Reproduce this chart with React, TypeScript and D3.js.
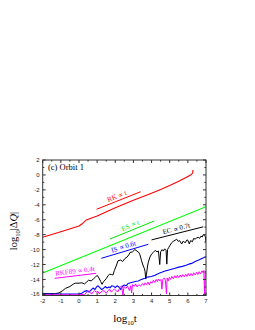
import React from 'react';
import * as d3 from 'd3';

// x = log10 t, y = log10 |dQ|
const xTicks = [-2, -1, 0, 1, 2, 3, 4, 5, 6, 7];
const yTicks = [-16, -14, -12, -10, -8, -6, -4, -2, 0, 2];

const rkData: [number, number][] = [
  [-2, -8.35], [-1, -7.6], [0, -6.85], [0.2, -6.5], [0.4, -6.05], [1, -5.5], [2, -4.4], [3, -3.4],
  [4, -2.45], [4.5, -1.95], [5, -1.4], [5.5, -0.85], [6, -0.2], [6.2, 0.05], [6.27, 0.3], [6.28, 0.65],
];

const esData: [number, number][] = [[-2, -13.15], [7, -4.25]];

const ecData: [number, number][] = [
  [-2, -15.9], [-1.3, -15.9], [-1.1, -15.8], [-0.9, -15.5], [-0.75, -15.2], [-0.5, -14.95], [-0.3, -14.6],
  [-0.2, -14.5], [0, -14.5], [0.16, -14.45], [0.3, -14.6], [0.4, -14.4], [0.53, -14.1], [0.68, -14.2],
  [0.8, -13.9], [0.9, -13.7], [1.0, -13.45], [1.1, -13.8], [1.2, -14.3], [1.27, -14.65], [1.35, -14.3],
  [1.5, -13.9], [1.6, -13.5], [1.69, -13.3], [1.8, -13.35], [1.87, -13.4], [1.95, -12.8], [2.05, -12.2],
  [2.15, -11.5], [2.3, -11.4], [2.4, -11.6], [2.53, -11.2], [2.65, -11.0], [2.75, -10.7], [2.81, -10.4],
  [2.95, -10.3], [3.08, -10.0], [3.2, -10.2], [3.3, -10.4], [3.36, -10.7], [3.45, -11.5], [3.54, -12.2],
  [3.6, -12.5], [3.64, -12.9], [3.68, -13.95], [3.72, -13.3], [3.78, -12.2], [3.82, -11.7], [3.91, -11.0],
  [4.0, -10.6], [4.09, -10.4], [4.2, -10.1], [4.3, -10.3], [4.38, -10.2], [4.45, -12.0], [4.5, -10.3],
  [4.58, -10.0], [4.65, -10.2], [4.72, -9.9], [4.8, -10.1], [4.84, -11.95], [4.88, -10.0], [4.95, -9.7],
  [5.0, -9.5], [5.1, -9.1], [5.19, -8.9], [5.3, -8.75], [5.38, -8.6], [5.47, -8.9], [5.55, -8.8],
  [5.66, -9.25], [5.75, -8.85], [5.85, -9.1], [5.95, -8.7], [6.0, -8.75], [6.08, -9.25], [6.15, -8.8],
  [6.25, -8.95], [6.32, -8.5], [6.4, -8.6], [6.48, -8.45], [6.57, -8.35], [6.65, -8.5], [6.72, -8.2],
  [6.8, -8.3], [6.85, -8.0], [6.92, -8.1], [6.97, -8.3], [7.0, -9.0],
];

const isData: [number, number][] = [
  [-2, -15.95], [-1, -15.95], [0, -15.95], [0.15, -15.85], [0.3, -15.6], [0.44, -15.5], [0.55, -15.7],
  [0.65, -15.45], [0.77, -15.15], [0.88, -15.35], [0.97, -15.0], [1.05, -14.85], [1.15, -15.1],
  [1.25, -15.35], [1.35, -15.2], [1.45, -14.95], [1.55, -15.15], [1.65, -15.0], [1.72, -15.1],
  [1.8, -14.85], [1.9, -14.9], [2.0, -15.1], [2.1, -14.85], [2.2, -15.0], [2.3, -15.35], [2.4, -14.9],
  [2.5, -14.75], [2.6, -14.85], [2.7, -14.55], [2.85, -14.45], [3.0, -14.35], [3.15, -14.25],
  [3.27, -14.2], [3.4, -14.05], [3.55, -13.9], [3.65, -13.85], [3.73, -13.7], [3.85, -13.65],
  [4.0, -13.6], [4.1, -13.5], [4.19, -13.45], [4.3, -13.3], [4.45, -13.15], [4.56, -13.05],
  [4.7, -12.9], [4.85, -12.8], [5.0, -12.7], [5.15, -12.6], [5.3, -12.5], [5.5, -12.35], [5.7, -12.25],
  [5.9, -12.1], [6.05, -11.95], [6.21, -11.85], [6.4, -11.6], [6.6, -11.4], [6.8, -11.15], [7.0, -10.95],
];

const rkfData: [number, number][] = [
  [-2, -16.05], [-1, -16.05], [0, -16.05], [0.3, -16.0], [0.45, -15.7], [0.53, -15.5], [0.62, -15.8],
  [0.7, -15.95], [0.8, -15.6], [0.86, -15.5], [0.95, -15.7], [1.05, -15.6], [1.12, -15.95], [1.2, -15.7],
  [1.32, -15.5], [1.42, -15.6], [1.5, -15.85], [1.6, -15.5], [1.69, -15.3], [1.78, -15.7], [1.85, -15.5],
  [1.95, -15.3], [2.05, -15.5], [2.15, -15.65], [2.25, -15.1], [2.35, -14.85], [2.42, -16.2],
  [2.48, -14.95], [2.58, -15.2], [2.68, -14.9], [2.78, -15.5], [2.85, -14.85], [2.9, -15.8],
  [2.95, -14.7], [3.05, -14.9], [3.12, -14.6], [3.2, -15.0], [3.3, -14.7], [3.4, -14.9], [3.5, -14.55],
  [3.58, -14.8], [3.64, -14.45], [3.72, -14.7], [3.8, -14.35], [3.88, -14.75], [3.95, -14.3],
  [4.02, -14.5], [4.1, -14.1], [4.18, -14.4], [4.25, -14.0], [4.32, -14.3], [4.38, -13.95],
  [4.45, -14.2], [4.52, -14.0], [4.57, -15.3], [4.62, -14.0], [4.7, -13.8], [4.76, -14.1],
  [4.82, -15.95], [4.86, -13.8], [4.92, -14.2], [4.98, -13.7], [5.05, -14.0], [5.12, -13.6],
  [5.2, -13.9], [5.28, -13.5], [5.35, -13.8], [5.42, -13.45], [5.5, -13.75], [5.58, -13.4],
  [5.65, -13.7], [5.72, -13.35], [5.8, -13.65], [5.88, -13.3], [5.95, -13.6], [6.02, -13.2],
  [6.1, -13.55], [6.18, -13.2], [6.25, -13.5], [6.32, -13.1], [6.4, -13.4], [6.48, -13.05],
  [6.55, -13.35], [6.62, -12.95], [6.7, -13.25], [6.78, -12.85], [6.84, -13.1], [6.88, -12.8],
  [6.92, -16.0], [6.96, -12.9], [7.0, -13.0],
];

// slope guide lines with their labels (data coords)
const guideNames = ['RK ∝ t', 'ES ∝ t', 'EC ∝ 0.7t', 'IS ∝ 0.6t', 'RKF89 ∝ 0.4t'];
const guideColors = ['#ff0000', '#00e600', '#000000', '#0000ff', '#ff00ff'];
const guideLines: [number, number, number, number][] = [
  [0.97, -4.6, 3.4, -2.25],
  [1.71, -8.58, 4.15, -6.17],
  [4.0, -8.7, 6.85, -6.95],
  [1.23, -11.17, 3.82, -9.29],
  [-1.34, -13.85, 0.95, -13.18],
];

const series = [
  { data: rkData, color: '#ff0000', w: 1.1 },
  { data: esData, color: '#00ff00', w: 1.1 },
  { data: ecData, color: '#000000', w: 1 },
  { data: isData, color: '#0000ff', w: 1.1 },
  { data: rkfData, color: '#ff00ff', w: 1 },
];

export default function App() {
  const W = 255, H = 330;
  const left = 42.7, right = 206, top = 160, bottom = 295.5;
  const x = d3.scaleLinear().domain([-2, 7]).range([left, right]);
  const y = d3.scaleLinear().domain([-16.15, 2]).range([bottom, top]);
  const line = d3.line<[number, number]>().x(d => x(d[0])).y(d => y(d[1]));

  const xMinor = d3.range(-1.5, 7, 1);
  const yMinor = d3.range(-15, 2, 2);
  const axisColor = '#333';
  const tickFont = "'Liberation Sans', Arial, sans-serif";
  const serif = "'Liberation Serif', 'Times New Roman', serif";

  return (
    <div style={{ position: 'fixed', left: 0, top: 0 }}>
      <svg width={W} height={H} style={{ display: 'block', background: '#fff' }}>
        <defs>
          <clipPath id="plot">
            <rect x={left} y={top} width={right - left} height={bottom - top} />
          </clipPath>
        </defs>

        <g clipPath="url(#plot)">
          {series.map((s, i) => (
            <path key={i} d={line(s.data) || ''} fill="none" stroke={s.color} strokeWidth={s.w} strokeLinejoin="round" />
          ))}
        </g>

        {guideLines.map((g, i) => {
          const x1 = x(g[0]), y1 = y(g[1]), x2 = x(g[2]), y2 = y(g[3]);
          const ang = (Math.atan2(y2 - y1, x2 - x1) * 180) / Math.PI;
          const mx = (x1 + x2) / 2, my = (y1 + y2) / 2;
          return (
            <g key={i}>
              <line x1={x1} y1={y1} x2={x2} y2={y2} stroke={guideColors[i]} strokeWidth={1} />
              <text
                transform={`translate(${mx},${my}) rotate(${ang})`}
                y={-2.5}
                textAnchor="middle"
                fontFamily={serif}
                fontSize={7}
                fill={guideColors[i]}
              >
                {guideNames[i]}
              </text>
            </g>
          );
        })}

        {/* frame */}
        <rect x={left} y={top} width={right - left} height={bottom - top} fill="none" stroke={axisColor} strokeWidth={1} />

        {xTicks.map(t => (
          <g key={'x' + t}>
            <line x1={x(t)} x2={x(t)} y1={bottom} y2={bottom - 3} stroke={axisColor} />
            <line x1={x(t)} x2={x(t)} y1={top} y2={top + 3} stroke={axisColor} />
            <text x={x(t)} y={303} textAnchor="middle" fontFamily={tickFont} fontSize={6} fill="#222">{t}</text>
          </g>
        ))}
        {xMinor.map(t => (
          <g key={'xm' + t}>
            <line x1={x(t)} x2={x(t)} y1={bottom} y2={bottom - 1.6} stroke={axisColor} />
            <line x1={x(t)} x2={x(t)} y1={top} y2={top + 1.6} stroke={axisColor} />
          </g>
        ))}
        {yTicks.map(t => (
          <g key={'y' + t}>
            <line x1={left} x2={left + 3} y1={y(t)} y2={y(t)} stroke={axisColor} />
            <line x1={right} x2={right - 3} y1={y(t)} y2={y(t)} stroke={axisColor} />
            <text x={39.5} y={y(t)} dy="0.35em" textAnchor="end" fontFamily={tickFont} fontSize={6} fill="#222">{t}</text>
          </g>
        ))}
        {yMinor.map(t => (
          <g key={'ym' + t}>
            <line x1={left} x2={left + 1.6} y1={y(t)} y2={y(t)} stroke={axisColor} />
            <line x1={right} x2={right - 1.6} y1={y(t)} y2={y(t)} stroke={axisColor} />
          </g>
        ))}

        <text x={48} y={170} fontFamily={serif} fontSize={8.5} fill="#000">(c) Orbit 1</text>

        <text transform="translate(17,231) rotate(-90)" textAnchor="middle" fontFamily={serif} fontSize={10.5} fill="#000">
          log<tspan fontSize={6.5} dy={2.5}>10</tspan>
          <tspan dy={-2.5}>|Δ</tspan>
          <tspan fontStyle="italic">Q</tspan>|
        </text>

        <text x={125} y={322} textAnchor="middle" fontFamily={serif} fontSize={11} fill="#000">
          log<tspan fontSize={6.5} dy={2.5}>10</tspan>
          <tspan dy={-2.5}>t</tspan>
        </text>
      </svg>
    </div>
  );
}
